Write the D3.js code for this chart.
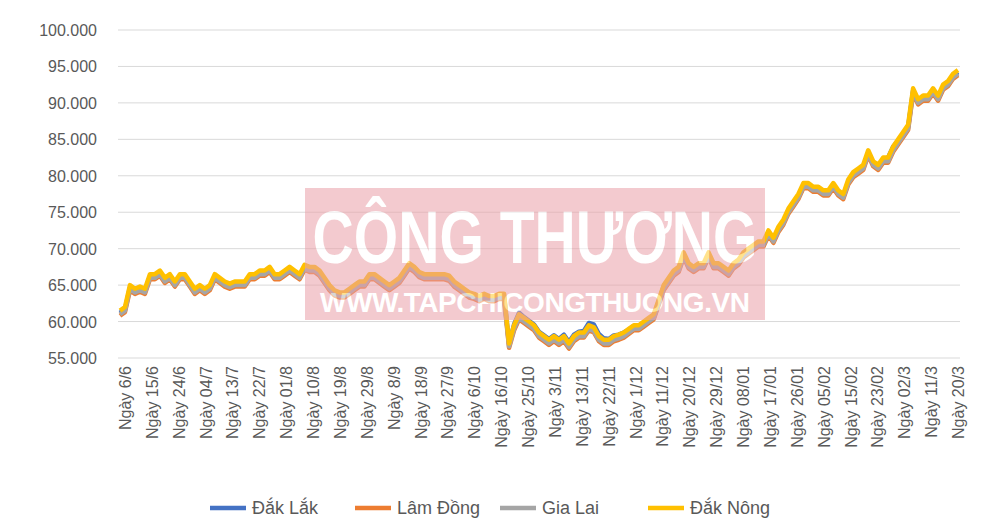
<!DOCTYPE html>
<html><head><meta charset="utf-8">
<script src="https://cdn.jsdelivr.net/npm/d3@7"></script>
<style>body{margin:0;background:#fff}svg{font-family:"Liberation Sans","Open Sans",sans-serif}</style>
</head><body><svg id="c" width="1000" height="528"></svg>
<script>
const xLabels=["Ngày 6/6","Ngày 15/6","Ngày 24/6","Ngày 04/7","Ngày 13/7","Ngày 22/7","Ngày 01/8","Ngày 10/8","Ngày 19/8","Ngày 29/8","Ngày 8/9","Ngày 18/9","Ngày 27/9","Ngày 6/10","Ngày 16/10","Ngày 25/10","Ngày 3/11","Ngày 13/11","Ngày 22/11","Ngày 1/12","Ngày 11/12","Ngày 20/12","Ngày 29/12","Ngày 08/01","Ngày 17/01","Ngày 26/01","Ngày 05/02","Ngày 15/02","Ngày 23/02","Ngày 02/3","Ngày 11/3","Ngày 20/3"];
const yTicks=[55000,60000,65000,70000,75000,80000,85000,90000,95000,100000];
const seriesNames=["Đắk Lắk","Lâm Đồng","Gia Lai","Đắk Nông"];
const dakNong=[61.5,62,65,64.5,64.8,64.5,66.5,66.5,67,66,
66.5,65.5,66.5,66.5,65.5,64.5,65,64.5,65,66.5,
66,65.5,65.2,65.5,65.5,65.5,66.5,66.5,67,67,
67.5,66.5,66.5,67,67.5,67,66.5,67.8,67.5,67.5,
67,66,65,64.3,64,64,64.5,65,65.5,65.5,
66.5,66.5,66,65.5,65,65.5,66,67,68,67.5,
66.8,66.5,66.5,66.5,66.5,66.5,66.3,65.5,65,64.5,
64,63.8,63.5,63.8,63.5,63.5,63.8,63.8,57,59.5,
61,60.5,60,59.5,58.5,58,57.5,58,57.5,58,
57,58,58.5,58.5,59.5,59.2,58,57.5,57.5,58,
58.2,58.5,59,59.5,59.5,60,60.5,61,63,65,
66,67,67.5,69.5,68,67.5,68,68,69.5,68,
68,67.5,67,68,68.5,69.5,70,70.5,71,71,
72.5,71.5,73,74,75.5,76.5,77.5,79,79,78.5,
78.5,78,78,79,78,77.5,79.5,80.5,81,81.5,
83.5,82,81.5,82.5,82.5,84,85,86,87,92,
90.5,91,91,92,91,92.5,93,94,94.5];
const dakLak=[61.2,61.7,64.7,64.2,64.5,64.2,66.2,66.2,66.7,65.7,
66.2,65.2,66.2,66.2,65.2,64.2,64.7,64.2,64.7,66.2,
65.7,65.2,64.9,65.2,65.2,65.2,66.2,66.2,66.7,66.7,
67.2,66.2,66.2,66.7,67.2,66.7,66.2,67.5,67.2,67.2,
66.7,65.7,64.7,64,63.7,63.7,64.2,64.7,65.2,65.2,
66.2,66.2,65.7,65.2,64.7,65.2,65.7,66.7,67.7,67.2,
66.5,66.2,66.2,66.2,66.2,66.2,66,65.2,64.7,64.2,
63.7,63.5,63.2,63.5,63.2,63.2,63.5,63.5,56.9,59.6,
61.2,60.6,60.1,59.6,58.6,58.1,57.6,58.1,57.6,58.2,
57.2,58.2,58.6,58.7,59.8,59.6,58.3,57.7,57.6,58.1,
58.2,58.5,58.9,59.4,59.4,59.9,60.3,60.8,62.8,64.8,
65.8,66.8,67.2,69.2,67.7,67.2,67.7,67.7,69.2,67.7,
67.7,67.2,66.7,67.7,68.2,69.2,69.7,70.2,70.7,70.7,
72.2,71.2,72.7,73.7,75.2,76.2,77.2,78.7,78.7,78.2,
78.2,77.7,77.7,78.7,77.7,77.2,79.2,80.2,80.7,81.2,
83.2,81.7,81.2,82.2,82.5,84,84.8,85.7,86.7,91.7,
90.2,90.7,90.7,91.7,90.7,92.2,92.7,93.7,94.2];
const lamDong=[60.8,61.3,64.3,63.8,64.1,63.8,65.8,65.8,66.3,65.3,
65.8,64.8,65.8,65.8,64.8,63.8,64.3,63.8,64.3,65.8,
65.3,64.8,64.5,64.8,64.8,64.8,65.8,65.8,66.3,66.3,
66.8,65.8,65.8,66.3,66.8,66.3,65.8,67.1,66.8,66.8,
66.3,65.3,64.3,63.6,63.3,63.3,63.8,64.3,64.8,64.8,
65.8,65.8,65.3,64.8,64.3,64.8,65.3,66.3,67.3,66.8,
66.1,65.8,65.8,65.8,65.8,65.8,65.6,64.8,64.3,63.8,
63.3,63.1,62.8,63.1,62.8,62.8,63.1,63.1,56.4,58.8,
60.3,59.8,59.3,58.8,57.8,57.3,56.8,57.3,56.8,57.3,
56.3,57.3,57.8,57.8,58.8,58.5,57.3,56.8,56.8,57.3,
57.5,57.8,58.3,58.8,58.8,59.3,59.8,60.3,62.3,64.3,
65.3,66.3,66.8,68.8,67.3,66.8,67.3,67.3,68.8,67.3,
67.3,66.8,66.3,67.3,67.8,68.8,69.3,69.8,70.3,70.3,
71.8,70.8,72.3,73.3,74.8,75.8,76.8,78.3,78.3,77.8,
77.8,77.3,77.3,78.3,77.3,76.8,78.8,79.8,80.3,80.8,
82.8,81.3,80.8,81.8,81.8,83.3,84.3,85.3,86.3,91.3,
89.8,90.3,90.3,91.3,90.3,91.8,92.3,93.3,93.8];
const giaLai=[61,61.5,64.5,64,64.3,64,66,66,66.5,65.5,
66,65,66,66,65,64,64.5,64,64.5,66,
65.5,65,64.7,65,65,65,66,66,66.5,66.5,
67,66,66,66.5,67,66.5,66,67.3,67,67,
66.5,65.5,64.5,63.8,63.5,63.5,64,64.5,65,65,
66,66,65.5,65,64.5,65,65.5,66.5,67.5,67,
66.3,66,66,66,66,66,65.8,65,64.5,64,
63.5,63.3,63,63.3,63,63,63.3,63.3,56.6,59,
60.5,60,59.5,59,58,57.5,57,57.5,57,57.5,
56.5,57.5,58,58,59,58.7,57.5,57,57,57.5,
57.7,58,58.5,59,59,59.5,60,60.5,62.5,64.5,
65.5,66.5,67,69,67.5,67,67.5,67.5,69,67.5,
67.5,67,66.5,67.5,68,69,69.5,70,70.5,70.5,
72,71,72.5,73.5,75,76,77,78.5,78.5,78,
78,77.5,77.5,78.5,77.5,77,79,80,80.5,81,
83,81.5,81,82,82,83.5,84.5,85.5,86.5,91.5,
90,90.5,90.5,91.5,90.5,92,92.5,93.5,94];
const colors=["#4472C4","#ED7D31","#A5A5A5","#FFC000"];
const allSeries=[dakLak,lamDong,giaLai,dakNong];

const svg=d3.select("#c");
const x=d3.scaleLinear().domain([0,dakNong.length-1]).range([120,958]);
const y=d3.scaleLinear().domain([55000,100000]).range([358,30]);
const fmt=v=>d3.format(",")(v).replace(/,/g,".");

svg.append("g").selectAll("line").data(yTicks).join("line")
 .attr("x1",118).attr("x2",960).attr("y1",d=>y(d)).attr("y2",d=>y(d))
 .attr("stroke","#d9d9d9").attr("stroke-width",1);
svg.append("g").selectAll("text").data(yTicks).join("text")
 .attr("x",97).attr("y",d=>y(d)+6).attr("text-anchor","end")
 .attr("font-size",16).attr("fill","#595959").text(fmt);

const tickIdx=xLabels.map((l,k)=>1+k*(dakNong.length-2)/(xLabels.length-1));
svg.append("g").selectAll("text").data(xLabels).join("text")
 .attr("transform",(d,k)=>`translate(${x(tickIdx[k])+6},366) rotate(-90)`)
 .attr("text-anchor","end").attr("font-size",16).attr("fill","#595959").text(d=>d);

const line=d3.line().x((d,i)=>x(i)).y(d=>y(d*1000)).curve(d3.curveLinear);
allSeries.forEach((s,i)=>{
 svg.append("path").datum(s).attr("d",line).attr("fill","none")
  .attr("stroke",colors[i]).attr("stroke-width",4.5).attr("stroke-linejoin","round");
});

// watermark
const wm=svg.append("g").attr("opacity",0.55);
wm.append("rect").attr("x",305).attr("y",188).attr("width",460).attr("height",132).attr("fill","#eba0a8");
wm.append("text").attr("x",535).attr("y",263).attr("text-anchor","middle").attr("font-size",74)
 .attr("font-weight","bold").attr("fill","#fff").attr("textLength",445).attr("lengthAdjust","spacingAndGlyphs")
 .text("CÔNG THƯƠNG");
wm.append("text").attr("x",535).attr("y",312).attr("text-anchor","middle").attr("font-size",28)
 .attr("font-weight","bold").attr("fill","#fff").attr("textLength",430).attr("lengthAdjust","spacing")
 .text("WWW.TAPCHICONGTHUONG.VN");

// legend
const lx=[210,355,500,648];
const lg=svg.append("g");
seriesNames.forEach((n,i)=>{
 lg.append("line").attr("x1",lx[i]).attr("x2",lx[i]+36).attr("y1",508).attr("y2",508)
  .attr("stroke",colors[i]).attr("stroke-width",4.5);
 lg.append("text").attr("x",lx[i]+42).attr("y",514).attr("font-size",18).attr("fill","#595959").text(n);
});
</script></body></html>
